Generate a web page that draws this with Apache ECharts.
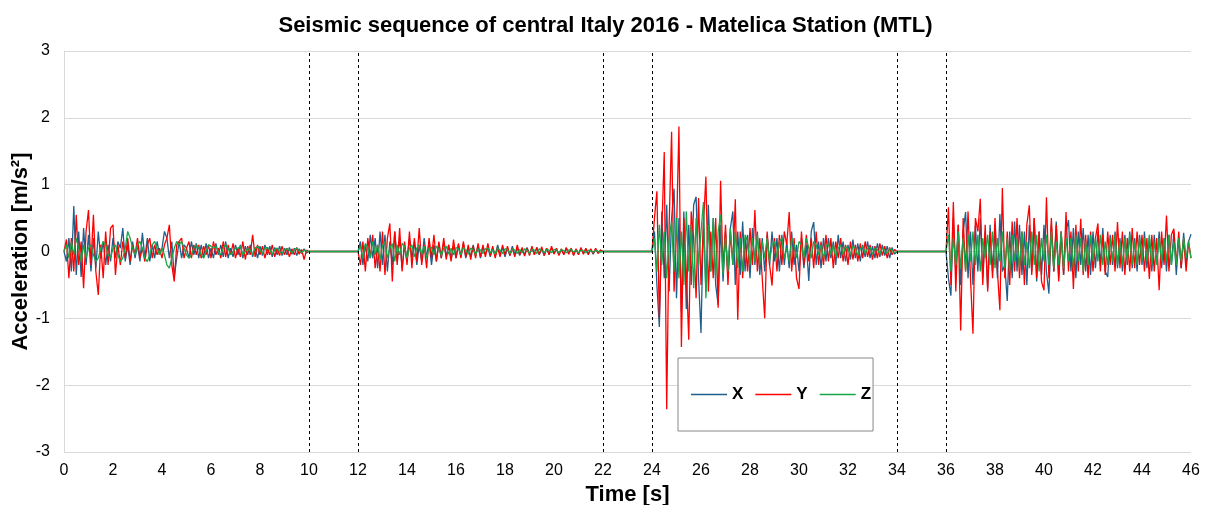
<!DOCTYPE html>
<html>
<head>
<meta charset="utf-8">
<script src="https://cdn.jsdelivr.net/npm/echarts@6/dist/echarts.min.js"></script>
<style>
  html, body { margin: 0; padding: 0; background: #fff; }
  #chart { width: 1211px; height: 505px; }
</style>
</head>
<body>
<div id="chart"></div>
<script>
// 每段记录的起始时间(s)和采样间隔
const segStarts = [0, 12, 24, 36];
const dt = 0.1;

// X 分量 (m/s²), 每段 101 个点
const accX1 = [0, -0.15, 0.2, -0.3, 0.68, -0.35, 0.3, -0.38, 0.35, -0.2, 0.25,
  -0.3, 0.2, -0.25, 0.3, -0.1, 0.15, -0.2, 0.1, -0.15, 0.2,
  -0.1, 0.15, 0.05, 0.35, -0.15, 0.1, -0.2, 0.15, -0.1, 0.1,
  -0.15, 0.28, -0.1, 0.2, -0.15, 0.1, -0.1, 0.15, -0.05, 0.05,
  0.3, 0.2, -0.1, 0.15, -0.38, -0.1, 0.15, -0.1, 0.1, 0.05,
  -0.1, 0.15, -0.05, 0.12, -0.1, 0.1, -0.08, 0.12, -0.1, 0.05,
  -0.1, 0.12, -0.05, 0.1, -0.08, 0.15, -0.1, 0.05, -0.08, 0.1,
  -0.05, 0.1, -0.1, 0.08, -0.05, 0.1, -0.08, 0.06, -0.1, 0.08,
  -0.06, 0.1, -0.05, 0.08, -0.08, 0.06, -0.05, 0.08, -0.06, 0.05,
  -0.05, 0.06, -0.04, 0.05, -0.06, 0.04, -0.03, 0.04, -0.02, 0];
const accX2 = [0, 0.15, -0.2, 0.1, -0.15, 0.25, -0.1, 0.2, -0.25, 0.3, -0.2,
  0.25, -0.3, 0.15, -0.2, 0.3, -0.15, 0.2, -0.25, 0.1, -0.15,
  0.2, -0.1, 0.15, -0.2, 0.1, -0.15, 0.2, -0.1, 0.15, -0.2,
  0.1, -0.15, 0.12, -0.1, 0.15, -0.08, 0.1, -0.12, 0.08, -0.1,
  0.1, -0.08, 0.12, -0.1, 0.06, -0.08, 0.1, -0.06, 0.08, -0.1,
  0.08, -0.05, 0.06, -0.08, 0.05, -0.06, 0.1, -0.05, 0.06, -0.08,
  0.05, -0.06, 0.08, -0.04, 0.05, -0.06, 0.04, -0.05, 0.06, -0.04,
  0.05, -0.04, 0.06, -0.05, 0.04, -0.06, 0.05, -0.04, 0.05, -0.03,
  0.04, -0.05, 0.03, -0.04, 0.05, -0.03, 0.04, -0.05, 0.03, -0.04,
  0.05, -0.03, 0.04, -0.03, 0.03, -0.04, 0.03, -0.02, 0.02, 0];
const accX3 = [0, 0.3, -0.5, -1.13, 0.6, -0.4, 0.7, -0.6, 0.5, 0.94, -0.7,
  0.5, -0.9, 0.6, -0.86, 0.4, -0.5, 0.7, 0.82, -0.4, -1.22,
  0.5, -0.6, 0.7, -0.3, 0.5, -0.5, -0.8, 0.4, -0.45, 0.3,
  -0.4, 0.35, 0.6, -0.5, 0.3, -0.35, 0.45, -0.3, 0.25, -0.4,
  0.35, -0.2, 0.3, -0.35, 0.2, -0.3, 0.25, -0.2, 0.3, -0.15,
  0.2, -0.3, 0.25, -0.2, 0.15, -0.25, 0.3, -0.2, 0.1, -0.3,
  0.2, -0.25, 0.1, -0.44, 0.3, 0.44, -0.2, 0.15, -0.25, 0.2,
  -0.15, 0.2, -0.1, 0.15, -0.2, 0.25, -0.1, 0.15, -0.15, 0.1,
  -0.12, 0.18, -0.1, 0.12, -0.15, 0.1, -0.08, 0.15, -0.1, 0.08,
  -0.1, 0.12, -0.08, 0.1, -0.06, 0.08, -0.1, 0.06, -0.04, 0];
const accX4 = [0, -0.4, -0.66, 0.5, -0.3, 0.4, -0.5, 0.3, 0.59, -0.4, 0.3,
  -0.5, 0.4, -0.3, 0.5, -0.4, 0.3, -0.55, 0.4, -0.3, 0.35,
  -0.4, 0.56, -0.3, -0.2, -0.74, 0.3, -0.4, 0.45, -0.3, 0.4,
  -0.35, 0.3, -0.5, 0.4, -0.3, 0.5, -0.45, 0.3, -0.35, 0.4,
  -0.3, -0.63, 0.4, -0.3, 0.45, -0.4, 0.3, -0.35, 0.3, 0.47,
  -0.3, 0.35, -0.4, 0.3, -0.2, 0.35, -0.3, 0.25, -0.35, 0.3,
  -0.25, 0.3, -0.2, 0.35, -0.3, -0.38, 0.25, -0.2, 0.3, -0.25,
  0.2, -0.3, 0.25, -0.2, 0.3, -0.25, 0.2, -0.3, 0.25, -0.2,
  0.3, -0.25, 0.2, -0.3, 0.25, -0.2, 0.3, -0.25, 0.2, -0.3,
  0.25, -0.2, 0.3, -0.35, 0.2, -0.25, 0.28, -0.2, 0.15, 0.26];

// Y 分量
const accY1 = [0, 0.18, -0.4, 0.2, -0.3, 0.55, -0.2, 0.15, -0.55, 0.3, 0.62,
  -0.2, 0.55, -0.3, -0.65, 0.1, -0.4, 0.3, -0.2, 0.35, 0.4,
  -0.35, 0.1, -0.2, 0.15, -0.1, 0.2, -0.15, 0.1, -0.05, 0.2,
  -0.1, 0.05, -0.15, 0.1, 0.2, -0.1, 0.1, -0.05, 0.05, -0.1,
  0.1, 0.2, 0.4, -0.2, -0.45, 0.1, 0.15, 0.2, -0.1, 0.05,
  0.15, -0.1, 0.1, -0.05, 0.1, -0.1, 0.08, -0.05, 0.1, -0.1,
  0.15, -0.05, 0.05, -0.1, 0.15, -0.08, 0.1, -0.05, 0.12, -0.1,
  0.05, -0.08, 0.15, -0.12, 0.08, -0.05, 0.25, -0.08, 0.1, -0.05,
  0.08, -0.1, 0.05, -0.05, 0.1, -0.08, 0.05, -0.06, 0.08, -0.05,
  0.05, -0.08, 0.04, -0.05, 0.06, -0.04, 0.03, -0.12, 0.02, 0];
const accY2 = [0, -0.2, 0.15, -0.3, 0.2, -0.1, 0.25, -0.25, 0.1, -0.3, 0.3,
  -0.35, 0.2, 0.42, -0.45, 0.3, -0.2, 0.35, -0.3, 0.15, -0.2,
  0.3, -0.25, 0.2, -0.15, 0.35, -0.2, 0.1, -0.25, 0.2, -0.1,
  0.25, -0.15, 0.15, -0.1, 0.2, -0.12, 0.1, -0.15, 0.18, -0.1,
  0.12, -0.1, 0.15, -0.08, 0.1, -0.12, 0.08, -0.1, 0.12, -0.08,
  0.1, -0.08, 0.12, -0.06, 0.08, -0.1, 0.06, -0.08, 0.1, -0.05,
  0.08, -0.06, 0.05, -0.08, 0.1, -0.05, 0.06, -0.07, 0.05, -0.06,
  0.08, -0.05, 0.06, -0.04, 0.07, -0.06, 0.05, -0.05, 0.08, -0.04,
  0.05, -0.06, 0.04, -0.05, 0.06, -0.04, 0.05, -0.06, 0.04, -0.05,
  0.06, -0.04, 0.05, -0.05, 0.04, -0.03, 0.05, -0.03, 0.02, 0];
const accY3 = [0, 0.5, 0.9, -1.0, 0.3, 1.49, -2.36, 0.4, 1.79, -0.6, 0.3,
  1.87, -1.43, 0.5, -0.3, -1.32, 0.6, 0.2, -0.7, 0.8, -0.5,
  0.4, 1.12, -0.6, 0.3, -0.4, 0.5, -0.84, 1.06, -0.3, 0.4,
  -0.5, 0.3, -0.2, 0.78, -1.02, 0.3, -0.4, 0.2, -0.3, 0.35,
  -0.2, 0.62, -0.3, 0.2, -0.4, -1.0, 0.3, -0.2, -0.51, 0.2,
  -0.3, 0.25, -0.2, 0.3, 0.1, 0.59, -0.3, 0.2, -0.4, -0.56,
  0.3, -0.2, 0.25, -0.15, 0.2, -0.25, 0.3, -0.2, 0.15, -0.2,
  0.25, -0.15, 0.2, -0.25, 0.15, -0.1, 0.2, -0.15, 0.1, -0.2,
  0.15, -0.12, 0.1, -0.15, 0.12, -0.1, 0.15, -0.08, 0.1, -0.12,
  0.08, -0.1, 0.12, -0.06, 0.08, -0.1, 0.06, -0.05, 0.03, 0];
const accY4 = [0, 0.66, -0.5, 0.74, -0.6, 0.4, -1.18, 0.5, -0.3, 0.6, -0.4,
  -1.23, 0.5, 0.3, 0.79, -0.5, 0.4, -0.6, 0.3, -0.4, 0.5,
  -0.3, -0.88, 0.95, -0.4, 0.3, -0.5, 0.45, -0.3, 0.5, -0.4,
  0.3, -0.5, 0.4, 0.69, -0.35, 0.5, -0.4, 0.3, -0.45, -0.58,
  0.81, -0.4, 0.5, -0.3, 0.4, -0.45, 0.3, -0.35, 0.59, -0.3,
  0.3, -0.56, 0.4, -0.3, 0.49, -0.35, 0.25, -0.4, 0.3, -0.3,
  0.2, 0.42, -0.3, 0.25, -0.35, 0.3, -0.2, 0.25, -0.3, 0.44,
  -0.25, 0.3, -0.35, 0.2, -0.3, 0.35, -0.25, 0.3, -0.2, 0.25,
  -0.3, 0.2, -0.41, 0.25, -0.3, 0.2, -0.58, 0.3, -0.2, 0.54,
  -0.3, 0.25, 0.34, -0.2, 0.3, -0.25, 0.2, -0.3, 0.15, -0.1];

// Z 分量
const accZ1 = [0, 0.1, -0.1, 0.15, -0.05, 0.2, 0.05, -0.15, 0.1, -0.1, 0.05,
  0.1, -0.05, -0.15, -0.1, 0.05, 0.15, 0.1, -0.05, -0.1, 0.05,
  0.1, -0.05, -0.15, -0.1, 0.05, 0.3, 0.2, 0.05, -0.05, 0.1,
  0.15, 0.05, -0.1, -0.15, -0.05, 0.1, 0.15, 0.05, -0.05, 0.05,
  -0.05, -0.2, -0.25, -0.1, 0.05, 0.15, 0.1, 0.15, 0.05, -0.05,
  -0.1, -0.05, 0.05, 0.1, 0.05, -0.05, -0.1, 0, 0.1, 0.08,
  0.05, 0.08, 0, -0.05, 0.05, 0.1, 0.05, -0.05, 0, 0.05,
  0.05, 0.08, -0.05, 0, 0.05, 0.02, -0.05, 0.05, 0.08, 0.02,
  -0.03, 0.05, 0.06, 0.02, -0.04, 0.03, 0.05, 0, -0.03, 0.03,
  0.04, 0.02, -0.02, 0.03, 0.05, 0.01, -0.02, 0.02, 0.01, 0];
const accZ2 = [0, 0.08, -0.1, 0.12, 0.05, -0.1, 0.15, -0.05, 0.1, -0.12, 0.08,
  0.15, -0.1, 0.05, 0.12, -0.15, 0.1, -0.05, 0.12, 0.08, -0.1,
  0.05, 0.1, -0.08, 0.05, 0.1, -0.05, 0.08, -0.1, 0.05, 0.06,
  -0.05, 0.08, 0.04, -0.06, 0.05, 0.08, -0.04, 0.05, -0.05, 0.06,
  0.04, -0.05, 0.06, 0.02, -0.04, 0.05, 0.03, -0.05, 0.04, 0.02,
  -0.03, 0.04, 0.05, -0.02, 0.03, -0.04, 0.05, 0.02, -0.03, 0.04,
  0.03, -0.03, 0.04, 0.02, -0.03, 0.03, -0.02, 0.04, 0.02, -0.03,
  0.03, 0.02, -0.03, 0.04, 0.01, -0.02, 0.03, 0.02, -0.02, 0.03,
  0.02, -0.02, 0.03, 0.01, -0.02, 0.02, 0.03, -0.01, 0.02, -0.02,
  0.02, 0.01, -0.02, 0.02, 0.01, -0.01, 0.02, 0, -0.01, 0];
const accZ3 = [0, 0.2, -0.3, 0.4, -0.2, 0.3, -0.4, 0.2, 0.45, -0.3, 0.5,
  -0.4, 0.3, -0.5, 0.6, -0.3, 0.4, -0.55, 0.5, -0.2, 0.3,
  0.74, -0.7, 0.4, -0.3, 0.5, -0.4, 0.3, 0.55, -0.35, 0.2,
  -0.3, 0.35, -0.2, 0.3, -0.25, 0.2, -0.3, 0.25, 0.15, -0.2,
  0.2, -0.15, 0.25, -0.2, 0.15, -0.1, 0.2, -0.15, 0.1, 0.15,
  -0.1, 0.15, 0.2, -0.1, 0.05, -0.15, 0.2, 0.1, -0.1, 0.15,
  0.1, -0.1, 0.2, 0.05, -0.1, 0.15, 0.1, -0.05, 0.1, -0.1,
  0.08, 0.12, -0.05, 0.1, -0.08, 0.05, 0.1, -0.05, 0.08, 0.05,
  -0.05, 0.08, 0.05, -0.06, 0.04, 0.08, -0.03, 0.05, 0.06, -0.04,
  0.05, 0.03, -0.04, 0.05, 0.02, -0.03, 0.04, 0.02, -0.02, 0];
const accZ4 = [0, 0.25, -0.3, 0.2, -0.2, 0.3, -0.25, 0.2, -0.3, 0.25, -0.15,
  0.3, -0.2, 0.25, -0.3, 0.2, -0.1, 0.25, -0.2, 0.3, -0.25,
  0.2, -0.15, 0.3, -0.25, 0.2, -0.3, 0.25, -0.15, 0.2, -0.25,
  0.3, -0.2, 0.15, -0.25, 0.3, -0.2, 0.25, -0.3, 0.2, -0.15,
  0.25, -0.2, 0.3, -0.25, 0.15, -0.2, 0.3, -0.25, 0.2, -0.15,
  0.2, -0.25, 0.25, -0.15, 0.2, -0.3, 0.15, -0.2, 0.25, -0.15,
  0.2, -0.15, 0.25, -0.2, 0.15, -0.2, 0.2, -0.15, 0.25, -0.2,
  0.15, -0.2, 0.2, -0.15, 0.25, -0.2, 0.15, -0.2, 0.2, -0.15,
  0.2, -0.15, 0.25, -0.2, 0.15, -0.2, 0.2, -0.15, 0.2, -0.15,
  0.25, -0.2, 0.15, -0.2, 0.2, -0.15, 0.2, -0.1, 0.15, -0.1];

// 分隔虚线位置(s)
const dividers = [10, 12, 22, 24, 34, 36];

// 把各段拼成 [t, a] 点列
function toPairs(segs) {
  let out = [];
  segs.forEach(function (vals, k) {
    vals.forEach(function (v, i) {
      out.push([+(segStarts[k] + i * dt).toFixed(2), v]);
    });
  });
  return out;
}

var myChart = echarts.init(document.getElementById("chart"));
var fontFamily = "'Liberation Sans', Arial, sans-serif";
var option = {
  animation: false,
  backgroundColor: "#fff",
  title: {
    text: "Seismic sequence of central Italy 2016 - Matelica Station (MTL)",
    left: "center",
    top: 10,
    textStyle: { fontFamily: fontFamily, fontSize: 22, fontWeight: "bold", color: "#000" }
  },
  legend: {
    left: 678,
    top: 358,
    orient: "horizontal",
    icon: "rect",
    padding: [28, 2, 28, 13],
    itemWidth: 36,
    itemHeight: 1.5,
    itemGap: 12,
    borderColor: "#888",
    borderWidth: 1,
    backgroundColor: "#fff",
    textStyle: { fontFamily: fontFamily, fontSize: 17, fontWeight: "bold", color: "#000" },
    data: ["X", "Y", "Z"]
  },
  grid: { left: 64, right: 20, top: 51, bottom: 53, outerBoundsMode: "none", containLabel: false },
  xAxis: {
    type: "value",
    min: 0,
    max: 46,
    interval: 2,
    name: "Time [s]",
    nameLocation: "middle",
    nameGap: 32,
    nameTextStyle: { fontFamily: fontFamily, fontSize: 22, fontWeight: "bold", color: "#000" },
    axisLine: { show: true, lineStyle: { color: "#d9d9d9" } },
    axisTick: { show: false },
    axisLabel: { fontFamily: fontFamily, fontSize: 16, color: "#000", margin: 11 },
    splitLine: { show: false }
  },
  yAxis: {
    type: "value",
    min: -3,
    max: 3,
    interval: 1,
    name: "Acceleration [m/s²]",
    nameLocation: "middle",
    nameGap: 32,
    nameMoveOverlap: false,
    nameTextStyle: { fontFamily: fontFamily, fontSize: 22, fontWeight: "bold", color: "#000" },
    axisLine: { show: true, lineStyle: { color: "#d9d9d9" } },
    axisTick: { show: false },
    axisLabel: { fontFamily: fontFamily, fontSize: 16, color: "#000", margin: 14 },
    splitLine: { lineStyle: { color: "#d9d9d9" } }
  },
  series: [{
    name: "X",
    type: "line",
    data: toPairs([accX1, accX2, accX3, accX4]),
    symbol: "none",
    color: "#1f5f8b",
    lineStyle: { width: 1.3 },
    markLine: {
      silent: true,
      symbol: "none",
      label: { show: false },
      lineStyle: { color: "#000", type: [3, 3], width: 1 },
      data: dividers.map(function (d) { return { xAxis: d }; })
    }
  }, {
    name: "Y",
    type: "line",
    data: toPairs([accY1, accY2, accY3, accY4]),
    symbol: "none",
    color: "#ff0000",
    lineStyle: { width: 1.3 }
  }, {
    name: "Z",
    type: "line",
    data: toPairs([accZ1, accZ2, accZ3, accZ4]),
    symbol: "none",
    color: "#18a548",
    lineStyle: { width: 1.3 }
  }]
};
myChart.setOption(option);
</script>
</body>
</html>
